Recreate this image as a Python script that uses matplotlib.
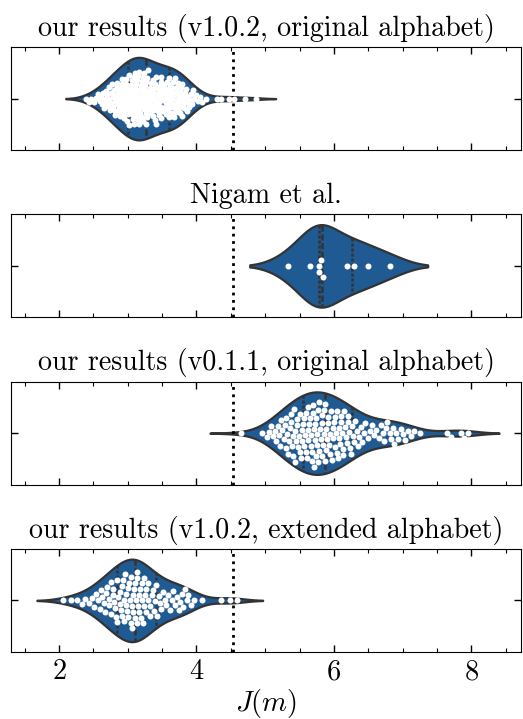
import numpy as np
import matplotlib
matplotlib.use('Agg')
import matplotlib.pyplot as plt
from matplotlib.ticker import MultipleLocator
import seaborn as sns

plt.rcParams.update({
    'font.family': 'serif',
    'font.serif': ['cmr10'],
    'mathtext.fontset': 'cm',
    'axes.formatter.use_mathtext': True,
    'axes.unicode_minus': False,
    'font.size': 16.8,
    'xtick.labelsize': 20.5,
    'axes.labelsize': 20.5,
})

# J(m) values of the generated molecules
ours_v102_orig = [
    2.39, 2.43, 2.47, 2.51, 2.54, 2.56, 2.59,
    2.61, 2.62, 2.64, 2.65, 2.67, 2.68, 2.69,
    2.70, 2.71, 2.72, 2.73, 2.74, 2.75, 2.76, 2.77, 2.78, 2.79,
    2.80, 2.81, 2.81, 2.82, 2.83, 2.84, 2.84, 2.85, 2.86, 2.87, 2.87, 2.88, 2.89, 2.89,
    2.90, 2.90, 2.91, 2.92, 2.92, 2.93, 2.94, 2.94, 2.95, 2.95, 2.96, 2.97, 2.97, 2.98,
    2.98, 2.99, 2.99,
    3.00, 3.00, 3.01, 3.01, 3.02, 3.02, 3.03, 3.04, 3.04, 3.05, 3.05, 3.06, 3.06, 3.07,
    3.07, 3.08, 3.08, 3.09, 3.09, 3.09,
    3.10, 3.10, 3.11, 3.11, 3.12, 3.12, 3.13, 3.13, 3.14, 3.14, 3.15, 3.15, 3.15, 3.16,
    3.16, 3.17, 3.17, 3.18, 3.18, 3.19, 3.19,
    3.20, 3.20, 3.21, 3.21, 3.22, 3.22, 3.23, 3.23, 3.24, 3.24, 3.25, 3.25, 3.26, 3.26,
    3.26, 3.27, 3.27, 3.28, 3.28, 3.29, 3.29,
    3.30, 3.31, 3.31, 3.32, 3.33, 3.33, 3.34, 3.35, 3.35, 3.36, 3.37, 3.37, 3.38, 3.38,
    3.39, 3.39, 3.39,
    3.40, 3.41, 3.41, 3.42, 3.43, 3.43, 3.44, 3.45, 3.45, 3.46, 3.47, 3.47, 3.48, 3.48,
    3.49, 3.49,
    3.50, 3.51, 3.52, 3.52, 3.53, 3.54, 3.55, 3.55, 3.56, 3.57, 3.57, 3.58, 3.59, 3.59,
    3.60, 3.60, 3.61, 3.62, 3.62, 3.63, 3.64, 3.64, 3.65, 3.66, 3.66, 3.67, 3.68, 3.68,
    3.69, 3.69,
    3.70, 3.71, 3.71, 3.72, 3.73, 3.74, 3.74, 3.75, 3.76, 3.77, 3.77, 3.78, 3.79, 3.79,
    3.80, 3.81, 3.82, 3.83, 3.84, 3.85, 3.86, 3.87, 3.88, 3.89,
    3.91, 3.92, 3.94, 3.95, 3.97, 3.99,
    4.02, 4.05, 4.08, 4.14, 4.30, 4.36, 4.48, 4.54, 4.70, 4.86,
]

nigam = [5.33, 5.65, 5.78, 5.79, 5.81, 5.84, 6.19, 6.29, 6.49, 6.81]

ours_v011_orig = [
    4.65, 4.96, 5.02, 5.05, 5.08, 5.11, 5.14, 5.16, 5.19,
    5.20, 5.22, 5.23, 5.25, 5.27, 5.29,
    5.30, 5.31, 5.32, 5.33, 5.35, 5.36, 5.37, 5.38, 5.39,
    5.40, 5.41, 5.42, 5.43, 5.44, 5.45, 5.46, 5.47, 5.48, 5.49,
    5.50, 5.51, 5.52, 5.53, 5.54, 5.55, 5.56, 5.57, 5.58, 5.59,
    5.60, 5.61, 5.62, 5.62, 5.63, 5.64, 5.65, 5.66, 5.67, 5.68, 5.68, 5.69,
    5.70, 5.71, 5.71, 5.72, 5.73, 5.74, 5.74, 5.75, 5.76, 5.77, 5.77, 5.78, 5.79,
    5.80, 5.81, 5.82, 5.82, 5.83, 5.84, 5.85, 5.86, 5.87, 5.87, 5.88, 5.89,
    5.90, 5.91, 5.92, 5.93, 5.94, 5.95, 5.96, 5.97, 5.98, 5.99,
    6.00, 6.01, 6.02, 6.03, 6.04, 6.05, 6.06, 6.07, 6.08, 6.09,
    6.10, 6.11, 6.12, 6.13, 6.14, 6.15, 6.16, 6.18, 6.19,
    6.20, 6.21, 6.22, 6.24, 6.25, 6.26, 6.28, 6.29,
    6.31, 6.33, 6.35, 6.37, 6.39, 6.41, 6.44, 6.46, 6.49,
    6.52, 6.55, 6.58, 6.62, 6.65, 6.68,
    6.71, 6.73, 6.76, 6.78, 6.81, 6.83, 6.86, 6.88, 6.91, 6.94, 6.97,
    7.01, 7.04, 7.08, 7.12, 7.17, 7.26,
    7.64, 7.71, 7.85, 7.89, 7.95,
]

ours_v102_ext = [
    2.05, 2.17, 2.26, 2.33, 2.38, 2.44, 2.48,
    2.51, 2.54, 2.56, 2.59, 2.61, 2.63, 2.65, 2.67, 2.69,
    2.70, 2.72, 2.73, 2.75, 2.76, 2.78, 2.79,
    2.80, 2.81, 2.83, 2.84, 2.85, 2.86, 2.88, 2.89,
    2.90, 2.91, 2.92, 2.93, 2.94, 2.95, 2.96, 2.97, 2.98, 2.99,
    3.00, 3.01, 3.02, 3.03, 3.04, 3.05, 3.06, 3.06, 3.07, 3.08, 3.09,
    3.10, 3.11, 3.12, 3.13, 3.14, 3.14, 3.15, 3.16, 3.17, 3.18, 3.19,
    3.20, 3.21, 3.22, 3.23, 3.24, 3.25, 3.26, 3.27, 3.29,
    3.30, 3.32, 3.33, 3.35, 3.36, 3.38, 3.39,
    3.41, 3.43, 3.45, 3.47, 3.49, 3.51, 3.54, 3.56, 3.59,
    3.61, 3.64, 3.66, 3.69, 3.71, 3.74, 3.76, 3.79,
    3.81, 3.83, 3.86, 3.88, 3.92, 3.97, 4.08,
    4.36, 4.49, 4.59,
]

titles = [
    'our results (v1.0.2, original alphabet)',
    'Nigam et al.',
    'our results (v0.1.1, original alphabet)',
    'our results (v1.0.2, extended alphabet)',
]
datasets = [ours_v102_orig, nigam, ours_v011_orig, ours_v102_ext]
threshold = 4.53

BLUE = '#1f5a93'
DOT = 6.0          # marker diameter in px
# packing diameter used for the swarm layout (top panel is packed tighter)
pack = [0.7, 1.0, 1.0, 1.0]


def swarm_offsets(ax, vals, diam):
    """Simple beeswarm: vertical offsets (data units) for points along x."""
    vals = np.asarray(vals, dtype=float)
    xpx = ax.transData.transform(np.column_stack([vals, np.zeros_like(vals)]))[:, 0]
    ypx_per_unit = abs(ax.transData.transform((0, 1))[1] - ax.transData.transform((0, 0))[1])
    order = np.argsort(xpx, kind='stable')
    placed_x, placed_y = [], []
    offs = np.zeros_like(vals)
    for i in order:
        x = xpx[i]
        px = np.array(placed_x)
        py = np.array(placed_y)
        near = np.abs(px - x) < diam if len(px) else np.zeros(0, bool)
        cands = [0.0]
        if near.any():
            dy = np.sqrt(diam ** 2 - (px[near] - x) ** 2)
            cands += list(py[near] + dy) + list(py[near] - dy)
        cands.sort(key=abs)
        for c in cands:
            if not near.any() or np.all((px[near] - x) ** 2 + (py[near] - c) ** 2 >= diam ** 2 - 1e-6):
                offs[i] = c
                break
        placed_x.append(x)
        placed_y.append(offs[i])
    return offs / ypx_per_unit


fig, axes = plt.subplots(4, 1, figsize=(5.23, 7.19), dpi=100, sharex=True)
fig.subplots_adjust(left=0.021, right=0.997, top=0.9346, bottom=0.0932, hspace=0.621)

for ax, vals, title, pk in zip(axes, datasets, titles, pack):
    sns.violinplot(x=vals, ax=ax, inner='quart', color=BLUE, saturation=1,
                   linewidth=1.6, linecolor='#333333',
                   inner_kws=dict(linewidth=1.8))
    ax.set_xlim(1.30, 8.73)
    ax.set_ylim(0.5, -0.5)
    ax.axvline(threshold, color='black', linestyle=':', linewidth=2, zorder=4)
    offs = swarm_offsets(ax, vals, DOT * pk)
    ax.scatter(vals, offs, s=(DOT * 72 / fig.dpi) ** 2, color='white',
               linewidths=0, zorder=5)
    ax.set_title(title, pad=8)
    ax.set_yticks([0])
    ax.set_yticklabels([])
    ax.set_ylabel('')
    ax.xaxis.set_major_locator(MultipleLocator(2))
    ax.xaxis.set_minor_locator(MultipleLocator(0.5))
    ax.tick_params(which='both', direction='in', top=True, right=True)
    ax.tick_params(which='major', length=5, width=1, pad=5)
    ax.tick_params(which='minor', length=3, width=0.8)

axes[-1].set_xlabel('$J(m)$', labelpad=1)

fig.savefig('out.png', dpi=100)
